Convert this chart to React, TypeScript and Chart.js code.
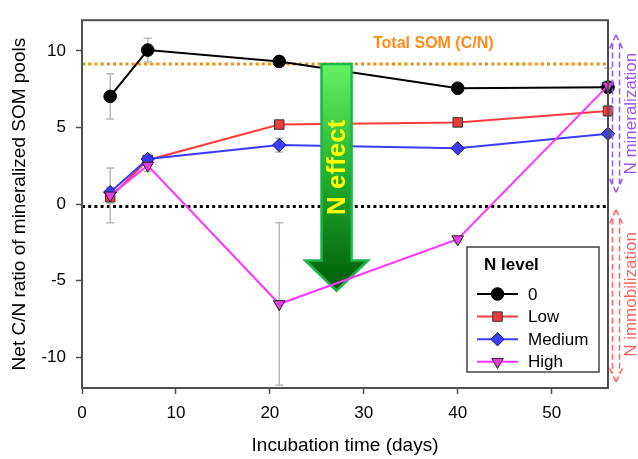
import React, { useEffect, useRef } from 'react';
import { Chart, registerables } from 'chart.js';

Chart.register(...registerables);

// ---------- data ----------
const days = [3, 7, 21, 40, 56];
const seriesNames = ['0', 'Low', 'Medium', 'High'];
const valsN0 = [7.03, 10.05, 9.31, 7.56, 7.62];
const valsLow = [0.45, 2.88, 5.19, 5.33, 6.08];
const valsMedium = [0.78, 2.94, 3.85, 3.64, 4.59];
const valsHigh = [0.57, 2.52, -6.52, -2.29, 7.73];
const errN0 = [1.48, 0.78, 0.2, 0.1, 1.25];
const errLow = [0.4, 0.2, 0.2, 0.15, 0.35];
const errMedium = [0.3, 0.2, 0.45, 0.15, 0.2];
const errHigh = [1.78, 0.4, 5.3, 0.2, 0.3];
const xTicks = [0, 10, 20, 30, 40, 50];
const yTicks = [-10, -5, 0, 5, 10];
const totalSOM = 9.15;
const zeroRef = -0.15;

// annotation anchors (data units)
const arrowX = 27.1;
const arrowTop = 9.14;
const arrowHeadBase = -3.68;
const arrowTip = -5.65;
const arrowShaftHalf = 1.6;
const arrowHeadHalf = 3.35;
const arrowTextY = 2.4;
const somLabelX = 37.4;
const somLabelY = 10.45;
const minArrow = [11.05, 0.76];
const immArrow = [-0.38, -11.6];
const minTextY = 5.9;
const immTextY = -5.9;

const FONT = "'Liberation Sans', Arial, Helvetica, sans-serif";

const styles = [
  { line: '#000000', fill: '#000000', border: '#000000', shape: 'circle', radius: 6.3, rot: 0 },
  { line: '#ff3b3b', fill: '#f03c3c', border: '#333333', shape: 'rect', radius: 6.7, rot: 0 },
  { line: '#3b3bff', fill: '#3c3cff', border: '#1a1a40', shape: 'rectRot', radius: 6.7, rot: 0 },
  { line: '#ff33ff', fill: '#e83ee8', border: '#222222', shape: 'triangle', radius: 6.7, rot: 180 },
];
const seriesVals = [valsN0, valsLow, valsMedium, valsHigh];
const seriesErr = [errN0, errLow, errMedium, errHigh];

function marker(ctx: CanvasRenderingContext2D, shape: string, x: number, y: number, r: number, fill: string, border: string) {
  ctx.save();
  ctx.beginPath();
  if (shape === 'circle') {
    ctx.arc(x, y, r, 0, Math.PI * 2);
  } else if (shape === 'rect') {
    const s = r * Math.SQRT1_2;
    ctx.rect(x - s, y - s, 2 * s, 2 * s);
  } else if (shape === 'rectRot') {
    ctx.moveTo(x, y - r);
    ctx.lineTo(x + r, y);
    ctx.lineTo(x, y + r);
    ctx.lineTo(x - r, y);
    ctx.closePath();
  } else {
    const w = r * Math.sin(Math.PI / 3);
    ctx.moveTo(x, y + r);
    ctx.lineTo(x + w, y - r / 2);
    ctx.lineTo(x - w, y - r / 2);
    ctx.closePath();
  }
  ctx.fillStyle = fill;
  ctx.fill();
  ctx.lineWidth = 1;
  ctx.strokeStyle = border;
  ctx.stroke();
  ctx.restore();
}

function dashedDoubleArrow(ctx: CanvasRenderingContext2D, x: number, y1: number, y2: number, color: string) {
  const sh = 3.5, hh = 7.5, hl = 16;
  ctx.save();
  ctx.strokeStyle = color;
  ctx.lineWidth = 1.6;
  ctx.setLineDash([6, 3]);
  ctx.beginPath();
  ctx.moveTo(x, y1);
  ctx.lineTo(x + hh, y1 + hl);
  ctx.moveTo(x, y1);
  ctx.lineTo(x - hh, y1 + hl);
  ctx.moveTo(x - sh, y1 + hl * 0.55);
  ctx.lineTo(x - sh, y2 - hl * 0.55);
  ctx.moveTo(x + sh, y1 + hl * 0.55);
  ctx.lineTo(x + sh, y2 - hl * 0.55);
  ctx.moveTo(x, y2);
  ctx.lineTo(x + hh, y2 - hl);
  ctx.moveTo(x, y2);
  ctx.lineTo(x - hh, y2 - hl);
  ctx.stroke();
  ctx.restore();
}

const annotations = {
  id: 'annotations',
  beforeDatasetsDraw(chart: any) {
    const { ctx, chartArea: a, scales } = chart;
    const xs = scales.x, ys = scales.y;
    ctx.save();
    ctx.lineWidth = 3;
    ctx.setLineDash([3, 3.2]);
    ctx.strokeStyle = '#ff8a00';
    ctx.beginPath();
    ctx.moveTo(a.left, ys.getPixelForValue(totalSOM));
    ctx.lineTo(a.right, ys.getPixelForValue(totalSOM));
    ctx.stroke();
    ctx.strokeStyle = '#000000';
    ctx.beginPath();
    ctx.moveTo(a.left, ys.getPixelForValue(zeroRef));
    ctx.lineTo(a.right, ys.getPixelForValue(zeroRef));
    ctx.stroke();
    ctx.setLineDash([]);
    ctx.strokeStyle = '#b8b8b8';
    ctx.lineWidth = 1.5;
    seriesVals.forEach((vals, si) => {
      vals.forEach((v, i) => {
        const e = seriesErr[si][i];
        const px = xs.getPixelForValue(days[i]);
        const t = ys.getPixelForValue(v + e);
        const b = ys.getPixelForValue(v - e);
        ctx.beginPath();
        ctx.moveTo(px, t);
        ctx.lineTo(px, b);
        ctx.moveTo(px - 4, t);
        ctx.lineTo(px + 4, t);
        ctx.moveTo(px - 4, b);
        ctx.lineTo(px + 4, b);
        ctx.stroke();
      });
    });
    ctx.restore();
  },
  beforeDatasetDraw(chart: any, args: any) {
    if (args.index !== 3) return;
    const { ctx, scales } = chart;
    const xs = scales.x, ys = scales.y;
    const cx = xs.getPixelForValue(arrowX);
    const sh = xs.getPixelForValue(arrowX + arrowShaftHalf) - cx;
    const hh = xs.getPixelForValue(arrowX + arrowHeadHalf) - cx;
    const top = ys.getPixelForValue(arrowTop);
    const hb = ys.getPixelForValue(arrowHeadBase);
    const tip = ys.getPixelForValue(arrowTip);
    ctx.save();
    ctx.beginPath();
    ctx.moveTo(cx - sh, top);
    ctx.lineTo(cx + sh, top);
    ctx.lineTo(cx + sh, hb);
    ctx.lineTo(cx + hh, hb);
    ctx.lineTo(cx, tip);
    ctx.lineTo(cx - hh, hb);
    ctx.lineTo(cx - sh, hb);
    ctx.closePath();
    const g = ctx.createLinearGradient(0, top, 0, tip);
    g.addColorStop(0, '#66f266');
    g.addColorStop(0.5, '#1fae2a');
    g.addColorStop(1, '#005c0a');
    ctx.fillStyle = g;
    ctx.fill();
    ctx.lineWidth = 2.5;
    ctx.lineJoin = 'miter';
    ctx.strokeStyle = '#1fb54a';
    ctx.stroke();
    ctx.translate(cx, ys.getPixelForValue(arrowTextY));
    ctx.rotate(-Math.PI / 2);
    ctx.fillStyle = '#ffff00';
    ctx.font = `bold 26px ${FONT}`;
    ctx.textAlign = 'center';
    ctx.textBaseline = 'middle';
    ctx.fillText('N effect', 0, 1);
    ctx.restore();
  },
  afterDraw(chart: any) {
    const { ctx, chartArea: a, scales } = chart;
    const xs = scales.x, ys = scales.y;
    ctx.save();
    ctx.strokeStyle = '#505050';
    ctx.lineWidth = 2;
    ctx.strokeRect(a.left, a.top, a.right - a.left, a.bottom - a.top);

    ctx.fillStyle = '#ff8a1a';
    ctx.font = `bold 16px ${FONT}`;
    ctx.textAlign = 'center';
    ctx.textBaseline = 'middle';
    ctx.fillText('Total SOM (C/N)', xs.getPixelForValue(somLabelX), ys.getPixelForValue(somLabelY));

    const ax = a.right + 8;
    dashedDoubleArrow(ctx, ax, ys.getPixelForValue(minArrow[0]), ys.getPixelForValue(minArrow[1]), '#9a5cf5');
    dashedDoubleArrow(ctx, ax, ys.getPixelForValue(immArrow[0]), ys.getPixelForValue(immArrow[1]), '#ff6b6b');
    ctx.font = `17px ${FONT}`;
    ctx.textAlign = 'center';
    ctx.textBaseline = 'middle';
    ctx.save();
    ctx.translate(a.right + 23, ys.getPixelForValue(minTextY));
    ctx.rotate(-Math.PI / 2);
    ctx.fillStyle = '#9a55ee';
    ctx.fillText('N mineralization', 0, 0);
    ctx.restore();
    ctx.save();
    ctx.translate(a.right + 23, ys.getPixelForValue(immTextY));
    ctx.rotate(-Math.PI / 2);
    ctx.fillStyle = '#ff6060';
    ctx.fillText('N immobilization', 0, 0);
    ctx.restore();

    const lw = 132, lh = 125;
    const lx = a.right - 9 - lw;
    const ly = a.bottom - 16 - lh;
    ctx.fillStyle = '#ffffff';
    ctx.fillRect(lx, ly, lw, lh);
    ctx.strokeStyle = '#444444';
    ctx.lineWidth = 1.5;
    ctx.strokeRect(lx, ly, lw, lh);
    ctx.fillStyle = '#000000';
    ctx.font = `bold 17px ${FONT}`;
    ctx.textAlign = 'left';
    ctx.textBaseline = 'middle';
    ctx.fillText('N level', lx + 17, ly + 18);
    ctx.font = `17px ${FONT}`;
    seriesNames.forEach((name, i) => {
      const st = styles[i];
      const yy = ly + 47 + i * 22.6;
      ctx.strokeStyle = st.line;
      ctx.lineWidth = 2;
      ctx.beginPath();
      ctx.moveTo(lx + 10, yy);
      ctx.lineTo(lx + 51, yy);
      ctx.stroke();
      marker(ctx, st.shape, lx + 30.5, yy, st.radius, st.fill, st.border);
      ctx.fillStyle = '#000000';
      ctx.fillText(name, lx + 61, yy + 1);
    });
    ctx.restore();
  },
};

export default function App() {
  const ref = useRef<HTMLCanvasElement | null>(null);
  useEffect(() => {
    if (!ref.current) return;
    const chart = new Chart(ref.current, {
      type: 'line',
      data: {
        datasets: seriesNames.map((name, i) => ({
          label: name,
          data: days.map((d, j) => ({ x: d, y: seriesVals[i][j] })),
          borderColor: styles[i].line,
          borderWidth: 2,
          backgroundColor: styles[i].fill,
          pointBackgroundColor: styles[i].fill,
          pointBorderColor: styles[i].border,
          pointBorderWidth: 1,
          pointStyle: styles[i].shape as any,
          pointRadius: styles[i].radius,
          pointRotation: styles[i].rot,
          tension: 0,
          fill: false,
          order: 4 - i,
          clip: false as any,
        })),
      },
      options: {
        responsive: false,
        animation: false,
        layout: { padding: { top: 10, right: 30, left: 0, bottom: 0 } },
        plugins: { legend: { display: false }, tooltip: { enabled: false } },
        scales: {
          x: {
            type: 'linear',
            min: 0,
            max: 56,
            afterBuildTicks: (s: any) => { s.ticks = xTicks.map((v) => ({ value: v })); },
            afterFit: (s: any) => { s.height = 71; },
            grid: { drawOnChartArea: false, drawTicks: true, tickLength: 6, tickColor: '#505050', tickWidth: 1.5 },
            border: { display: false },
            ticks: { color: '#000', font: { family: FONT, size: 17 }, padding: 9, maxRotation: 0 },
            title: { display: true, text: 'Incubation time (days)', color: '#000', font: { family: FONT, size: 19 }, padding: { top: 0, bottom: 2 } },
          },
          y: {
            type: 'linear',
            min: -12,
            max: 12,
            afterBuildTicks: (s: any) => { s.ticks = yTicks.map((v) => ({ value: v })); },
            afterFit: (s: any) => { s.width = 82; },
            grid: { drawOnChartArea: false, drawTicks: true, tickLength: 6, tickColor: '#505050', tickWidth: 1.5 },
            border: { display: false },
            ticks: { color: '#000', font: { family: FONT, size: 17 }, padding: 10 },
            title: { display: true, text: 'Net C/N ratio of mineralized SOM pools', color: '#000', font: { family: FONT, size: 19 }, padding: { top: 8, bottom: 0 } },
          },
        },
      },
      plugins: [annotations],
    });
    return () => chart.destroy();
  }, []);
  return (
    <div style={{ position: 'fixed', left: 0, top: 0, width: 638, height: 459, background: '#fff' }}>
      <canvas ref={ref} width={638} height={459} style={{ display: 'block', width: 638, height: 459 }} />
    </div>
  );
}
